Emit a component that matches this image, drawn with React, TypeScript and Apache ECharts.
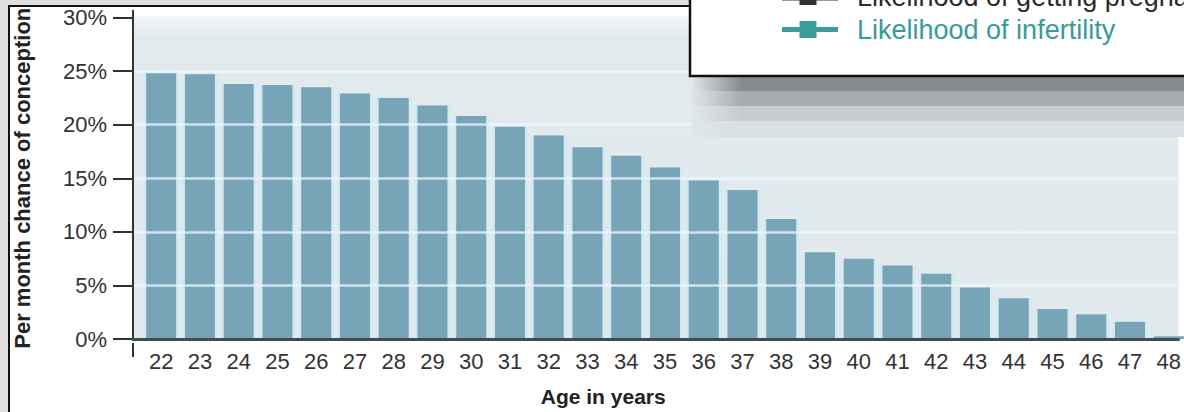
import { useEffect, useRef } from "react";
import * as echarts from "echarts";

const ages = [22, 23, 24, 25, 26, 27, 28, 29, 30, 31, 32, 33, 34, 35, 36, 37, 38, 39, 40, 41, 42, 43, 44, 45, 46, 47, 48];
const conceptionChance = [24.8, 24.7, 23.8, 23.7, 23.5, 22.9, 22.5, 21.8, 20.8, 19.8, 19.0, 17.9, 17.1, 16.0, 14.8, 13.9, 11.2, 8.1, 7.5, 6.85, 6.1, 4.8, 3.8, 2.8, 2.3, 1.6, 0.25];
const yTicks = [0, 5, 10, 15, 20, 25, 30];
const legendLabels = ["Likelihood of getting pregnant", "Likelihood of infertility"];
const xAxisTitle = "Age in years";
const yAxisTitle = "Per month chance of conception";

const FONT = '"Liberation Sans", Arial, Helvetica, sans-serif';

export default function App() {
  const ref = useRef<HTMLDivElement>(null);
  useEffect(() => {
    const chart = echarts.init(ref.current!, null, { renderer: "svg" });
    const data = ages.map((a, i) => [a, conceptionChance[i]]);
    const xMin = 21.2725;
    const xMax = 48.25;

    const shadowBands: [number, number, string][] = [
      [77, 14, "#878b8d"],
      [91, 15, "#a8acae"],
      [106, 15, "#c8cccf"],
      [121, 16, "#d9e0e3"],
    ];

    const graphic: any[] = [
      { type: "line", z: 50, shape: { x1: 133, y1: 10, x2: 133, y2: 18 }, style: { stroke: "#333", lineWidth: 2 } },
      { type: "line", z: 50, shape: { x1: 133, y1: 343, x2: 133, y2: 357 }, style: { stroke: "#333", lineWidth: 2 } },
      ...shadowBands.map(([y, h, c]) => ({
        type: "rect",
        z: 90,
        shape: { x: 692, y, width: 492, height: h },
        style: {
          fill: new echarts.graphic.LinearGradient(0, 0, 1, 0, [
            { offset: 0, color: "#dfe6e9" },
            { offset: 0.1, color: c },
            { offset: 1, color: c },
          ]),
        },
      })),
      {
        type: "rect",
        z: 100,
        shape: { x: 690, y: -60, width: 600, height: 136 },
        style: { fill: "#ffffff", stroke: "#111", lineWidth: 2.5 },
      },
      { type: "rect", z: 101, shape: { x: 782, y: -4.5, width: 56, height: 5 }, style: { fill: "#333" } },
      { type: "rect", z: 101, shape: { x: 799.5, y: -12, width: 17, height: 17 }, style: { fill: "#333" } },
      {
        type: "text",
        z: 101,
        x: 857,
        y: -3,
        style: { text: legendLabels[0], fill: "#2a2a2a", font: `27px ${FONT}`, verticalAlign: "middle", align: "left" },
      },
      { type: "rect", z: 101, shape: { x: 782, y: 27, width: 56, height: 5 }, style: { fill: "#3a9c9c" } },
      { type: "rect", z: 101, shape: { x: 799.5, y: 21, width: 17, height: 17 }, style: { fill: "#3a9c9c" } },
      {
        type: "text",
        z: 101,
        x: 857,
        y: 30,
        style: { text: legendLabels[1], fill: "#379a9b", font: `27px ${FONT}`, verticalAlign: "middle", align: "left" },
      },
    ];

    const option: any = {
      animation: false,
      textStyle: { fontFamily: FONT },
      grid: {
        left: 133,
        right: 0,
        top: 17.5,
        bottom: 69.3,
        show: true,
        borderWidth: 0,
        backgroundColor: new echarts.graphic.LinearGradient(0, 0, 0, 1, [
          { offset: 0, color: "#f0f4f6" },
          { offset: 0.06, color: "#e3eaed" },
          { offset: 1, color: "#e2e9ec" },
        ]),
      },
      xAxis: [
        {
          type: "value",
          min: xMin,
          max: xMax,
          z: 4,
          name: xAxisTitle,
          nameLocation: "middle",
          nameGap: 47,
          nameTextStyle: { fontSize: 21, fontWeight: "bold", color: "#222", padding: [0, 105, 0, 0] },
          axisLine: { show: true, onZero: false, lineStyle: { color: "#3f4c54", width: 3 } },
          axisTick: { show: false },
          splitLine: { show: false },
          axisLabel: {
            customValues: ages,
            formatter: (v: number) => String(v),
            fontSize: 22,
            color: "#333",
            margin: 11,
          },
        },
        {
          type: "value",
          min: xMin,
          max: xMax,
          show: false,
          splitLine: { show: false },
        },
      ],
      yAxis: {
        type: "value",
        min: 0,
        max: 30,
        interval: 5,
        z: 3,
        name: yAxisTitle,
        nameLocation: "middle",
        nameGap: 100,
        nameTextStyle: { fontSize: 22, fontWeight: "bold", color: "#222" },
        axisLine: { show: true, lineStyle: { color: "#333", width: 2 } },
        axisTick: { show: true, length: 20, lineStyle: { color: "#333", width: 2 } },
        axisLabel: {
          customValues: yTicks,
          formatter: (v: number) => `${v}%`,
          fontSize: 22,
          color: "#333",
          margin: 26,
        },
        splitLine: { show: true, lineStyle: { color: "rgba(235,248,255,0.75)", width: 2.5 } },
      },
      series: [
        {
          type: "bar",
          xAxisIndex: 1,
          data,
          barWidth: 36,
          itemStyle: { color: "#d4e9f2", borderColor: "#d4e9f2", borderWidth: 3 },
          silent: true,
        },
        {
          type: "bar",
          xAxisIndex: 0,
          data,
          barWidth: 30,
          itemStyle: { color: "#77a4b7" },
        },
      ],
      graphic,
    };
    chart.setOption(option);
    return () => chart.dispose();
  }, []);

  return (
    <div style={{ position: "absolute", left: 0, top: 0, width: 1184, height: 412, background: "#e0e0e0", overflow: "hidden" }}>
      <div style={{ position: "absolute", left: 8, top: 5, width: 1300, height: 500, border: "2.5px solid #111", background: "#fff" }} />
      <div ref={ref} style={{ position: "absolute", left: 0, top: 0, width: 1184, height: 412 }} />
    </div>
  );
}
